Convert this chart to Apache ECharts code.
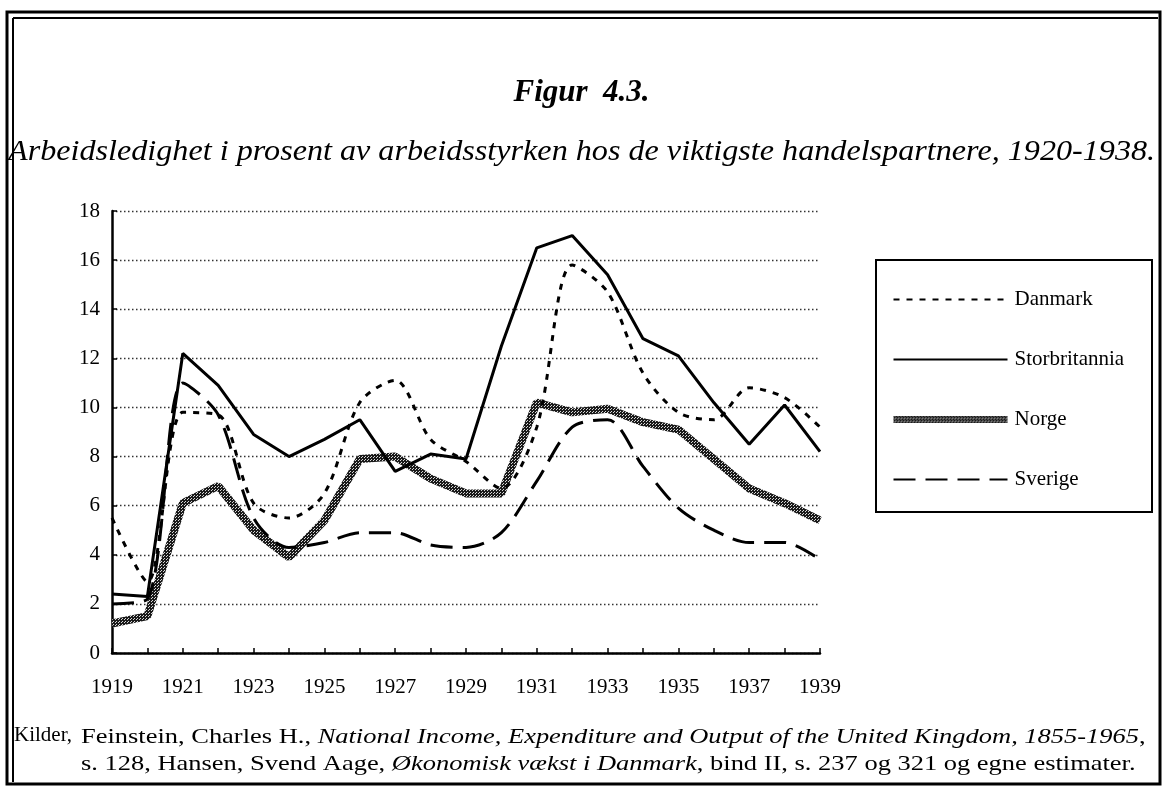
<!DOCTYPE html>
<html>
<head>
<meta charset="utf-8">
<script src="https://cdn.jsdelivr.net/npm/echarts@6/dist/echarts.min.js"></script>
<style>
  html, body { margin: 0; padding: 0; background: #fff; }
  #chart { width: 1163px; height: 788px; }
</style>
</head>
<body>
<div id="chart"></div>
<script>
// år og tall lest av figuren
var years = ['1919','1920','1921','1922','1923','1924','1925','1926','1927','1928','1929',
             '1930','1931','1932','1933','1934','1935','1936','1937','1938','1939'];
var danmark = [5.5, 2.9, 9.8, 9.7, 6.1, 5.5, 6.5, 10.2, 11.1, 8.7, 7.8, 6.7, 9.2, 15.8, 14.7, 11.4, 9.8, 9.5, 10.8, 10.4, 9.2];
var storbritannia = [2.4, 2.3, 12.2, 10.9, 8.9, 8.0, 8.7, 9.5, 7.4, 8.1, 7.9, 12.5, 16.5, 17.0, 15.4, 12.8, 12.1, 10.2, 8.5, 10.1, 8.2];
var norge = [1.2, 1.5, 6.1, 6.8, 5.0, 3.9, 5.4, 7.9, 8.0, 7.1, 6.5, 6.5, 10.2, 9.8, 9.95, 9.4, 9.1, 7.9, 6.7, 6.1, 5.4];
var sverige = [2.0, 2.2, 11.0, 9.7, 5.5, 4.3, 4.5, 4.9, 4.9, 4.4, 4.3, 4.9, 7.0, 9.2, 9.5, 7.6, 5.9, 5.0, 4.5, 4.5, 3.8];
var seriesNames = ['Danmark', 'Storbritannia', 'Norge', 'Sverige'];

var serif = '"Liberation Serif", "DejaVu Serif", serif';

// rastermønster for Norge-linja
var pat = document.createElement('canvas');
pat.width = 3; pat.height = 3;
var pctx = pat.getContext('2d');
pctx.fillStyle = '#1a1a1a';
pctx.fillRect(0, 0, 3, 3);
pctx.fillStyle = '#d8d8d8';
pctx.fillRect(1, 1, 1, 1);
pctx.fillRect(2, 0, 1, 1);
var norgeColor = { image: pat, repeat: 'repeat' };

var chart = echarts.init(document.getElementById('chart'));

var option = {
  animation: false,
  backgroundColor: '#fff',
  textStyle: { fontFamily: serif, color: '#000' },
  grid: { left: 112, right: 343, top: 211, bottom: 135 },
  legend: {
    data: [
      { name: seriesNames[0] },
      { name: seriesNames[1] },
      { name: seriesNames[2], lineStyle: { width: 7 } },
      { name: seriesNames[3] }
    ],
    orient: 'vertical',
    left: 890,
    top: 289,
    itemWidth: 114,
    itemHeight: 16,
    itemGap: 39,
    padding: 0,
    itemStyle: { opacity: 0 },
    textStyle: { fontFamily: serif, fontSize: 21, color: '#000', padding: [0, 0, 0, 2] }
  },
  xAxis: {
    type: 'category',
    data: years,
    boundaryGap: false,
    axisLine: { lineStyle: { color: '#000', width: 2.5 } },
    axisTick: { inside: true, length: 5, interval: 0, lineStyle: { color: '#000', width: 1.5 } },
    axisLabel: { interval: 1, fontFamily: serif, fontSize: 21, color: '#000', margin: 24 },
    splitLine: { show: false }
  },
  yAxis: {
    type: 'value',
    min: 0,
    max: 18,
    interval: 2,
    axisLine: { show: true, lineStyle: { color: '#000', width: 2.5 } },
    axisTick: { show: true, inside: true, length: 5, lineStyle: { color: '#000', width: 1.5 } },
    axisLabel: { fontFamily: serif, fontSize: 21, color: '#000', margin: 12 },
    splitLine: { lineStyle: { color: '#333', type: [1.5, 2.5], width: 1.3 } }
  },
  series: [
    {
      name: 'Danmark', type: 'line', data: danmark, symbol: 'none', smooth: 0.3, z: 3,
      lineStyle: { color: '#000', width: 3, type: [6, 7] },
      itemStyle: { color: '#000' }
    },
    {
      name: 'Storbritannia', type: 'line', data: storbritannia, symbol: 'none', z: 4,
      lineStyle: { color: '#000', width: 3 },
      itemStyle: { color: '#000' }
    },
    {
      name: 'Norge', type: 'line', data: norge, symbol: 'none', z: 2,
      lineStyle: { color: norgeColor, width: 8 },
      itemStyle: { color: norgeColor }
    },
    {
      name: 'Sverige', type: 'line', data: sverige, symbol: 'none', smooth: 0.3, z: 3,
      lineStyle: { color: '#000', width: 3, type: [22, 10] },
      itemStyle: { color: '#000' }
    }
  ],
  graphic: [
    // ramme rundt figuren
    { type: 'rect', shape: { x: 7, y: 12, width: 1153, height: 772 }, style: { fill: 'none', stroke: '#000', lineWidth: 3 }, silent: true },
    { type: 'line', shape: { x1: 13, y1: 18, x2: 1158, y2: 18 }, style: { stroke: '#000', lineWidth: 2 }, silent: true },
    { type: 'line', shape: { x1: 13, y1: 18, x2: 13, y2: 782 }, style: { stroke: '#000', lineWidth: 2 }, silent: true },
    // tegnforklaringsboks
    { type: 'rect', shape: { x: 876, y: 260, width: 276, height: 252 }, style: { fill: 'none', stroke: '#000', lineWidth: 2 }, silent: true, z: 10 },
    // overskrift
    { type: 'text', left: 'center', top: 77, style: { text: 'Figur  4.3.', font: 'italic bold 31px ' + serif, fill: '#000' } },
    {
      type: 'text', x: 8, y: 137, scaleX: 1.072,
      style: { text: 'Arbeidsledighet i prosent av arbeidsstyrken hos de viktigste handelspartnere, 1920-1938.', font: 'italic 30px ' + serif, fill: '#000' }
    },
    // kilder
    {
      type: 'text', x: 14, y: 725,
      style: { text: 'Kilder,', font: '21px ' + serif, fill: '#000' }
    },
    {
      type: 'text', x: 81, y: 724, scaleX: 1.26,
      style: {
        text: 'Feinstein, Charles H., {i|National Income, Expenditure and Output of the United Kingdom, 1855-1965},\ns. 128, Hansen, Svend Aage, {i|Økonomisk vækst i Danmark}, bind II, s. 237 og 321 og egne estimater.',
        font: '21px ' + serif, fill: '#000', lineHeight: 27,
        rich: { i: { fontStyle: 'italic', fontFamily: serif, fontSize: 21, lineHeight: 27 } }
      }
    }
  ]
};

chart.setOption(option);
</script>
</body>
</html>
